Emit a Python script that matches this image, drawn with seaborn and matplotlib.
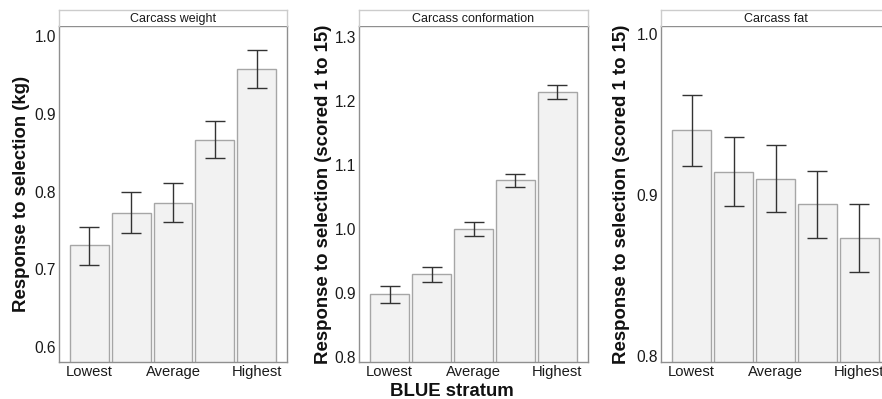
import matplotlib
matplotlib.use("Agg")
import matplotlib.pyplot as plt
import seaborn as sns
import pandas as pd

# Strata (ordered lowest -> highest BLUE) and the three tick labels shown
strata = ["S1", "S2", "S3", "S4", "S5"]
tick_labels = ["Lowest", "Average", "Highest"]
traits = ["Carcass weight", "Carcass conformation", "Carcass fat"]
ylabels = ["Response to selection (kg)",
           "Response to selection (scored 1 to 15)",
           "Response to selection (scored 1 to 15)"]

# Response to selection per stratum, with lower/upper error limits
weight_mean = [0.731, 0.773, 0.785, 0.867, 0.958]
weight_lower = [0.706, 0.747, 0.761, 0.843, 0.933]
weight_upper = [0.755, 0.799, 0.811, 0.891, 0.982]

conf_mean = [0.898, 0.929, 1.000, 1.077, 1.215]
conf_lower = [0.885, 0.917, 0.989, 1.066, 1.204]
conf_upper = [0.911, 0.940, 1.011, 1.087, 1.226]

fat_mean = [0.940, 0.914, 0.910, 0.894, 0.873]
fat_lower = [0.918, 0.893, 0.889, 0.873, 0.852]
fat_upper = [0.962, 0.936, 0.931, 0.915, 0.894]

y_ticks = [[0.6, 0.7, 0.8, 0.9, 1.0],
           [0.8, 0.9, 1.0, 1.1, 1.2, 1.3],
           [0.8, 0.9, 1.0]]
y_limits = [(0.581, 1.013), (0.792, 1.318), (0.796, 1.005)]

sns.set_style("white")
plt.rcParams["font.family"] = ["Liberation Sans", "DejaVu Sans"]

W, H = 882, 399
fig = plt.figure(figsize=(W / 100, H / 100), dpi=100)

# panel boxes in pixels: (left, right); shared top/bottom
panel_x = [(59, 287), (359, 588), (661, 890)]
top_px, bottom_px, strip_top_px = 26, 362, 10
label_x = [22, 323, 622]

series = [(weight_mean, weight_lower, weight_upper),
          (conf_mean, conf_lower, conf_upper),
          (fat_mean, fat_lower, fat_upper)]

frame_col = "#8f8f8f"
for i, (mean, lo, hi) in enumerate(series):
    x0, x1 = panel_x[i]
    ax = fig.add_axes([x0 / W, (H - bottom_px) / H, (x1 - x0) / W,
                       (bottom_px - top_px) / H])
    df = pd.DataFrame({"stratum": strata, "response": mean})
    sns.barplot(data=df, x="stratum", y="response", ax=ax,
                color="#f2f2f2", edgecolor="#a6a6a6", linewidth=1.0,
                width=0.93, saturation=1, errorbar=None)
    pos = range(len(strata))
    yerr = [[m - l for m, l in zip(mean, lo)], [u - m for m, u in zip(mean, hi)]]
    ax.errorbar(pos, mean, yerr=yerr, fmt="none", ecolor="#333333",
                elinewidth=1.0, capsize=7.2, capthick=1.0)
    ax.set_xlim(-0.73, 4.73)
    ax.set_ylim(*y_limits[i])
    ax.set_xticks([0, 2, 4])
    ax.set_xticklabels(tick_labels)
    ax.set_yticks(y_ticks[i])
    ax.set_yticklabels([f"{t:.1f}" for t in y_ticks[i]])
    ax.tick_params(axis="both", length=0, colors="#1a1a1a", pad=2)
    ax.tick_params(axis="x", labelsize=10.6)
    ax.tick_params(axis="y", labelsize=11.2)
    ax.set_xlabel("")
    for s in ax.spines.values():
        s.set_color(frame_col)
        s.set_linewidth(1.0)
    ax.set_ylabel(ylabels[i], fontsize=13.4, fontweight="bold", color="#111111")
    ax.yaxis.set_label_coords((label_x[i] - x0) / (x1 - x0), 0.5)
    ax.yaxis.label.set_va("center")

    # facet strip above the panel
    sx = fig.add_axes([x0 / W, (H - top_px) / H, (x1 - x0) / W,
                       (top_px - strip_top_px) / H])
    sx.set_xticks([])
    sx.set_yticks([])
    sx.set_facecolor("white")
    for name, s in sx.spines.items():
        s.set_color("#cccccc")
        s.set_linewidth(1.0)
    sx.spines["bottom"].set_visible(False)
    sx.text(0.5, 0.45, traits[i], ha="center", va="center", fontsize=9,
            color="#1a1a1a", transform=sx.transAxes)

fig.text(452 / W, 2.5 / H, "BLUE stratum", ha="center", va="baseline",
         fontsize=13.4, fontweight="bold", color="#111111")

fig.savefig("out.png", dpi=100, facecolor="white")
